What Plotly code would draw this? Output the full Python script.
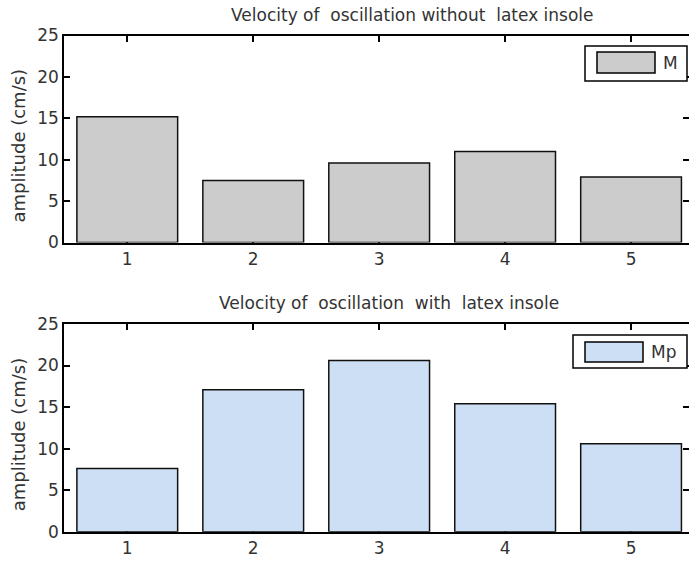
import plotly.graph_objects as go

# ---- data ----
categories = [1, 2, 3, 4, 5]
m_values = [15.2, 7.5, 9.6, 11.0, 7.9]
mp_values = [7.6, 17.1, 20.6, 15.4, 10.6]
series_names = ["M", "Mp"]
titles = ["Velocity of  oscillation without  latex insole",
          "Velocity of  oscillation  with  latex insole"]
y_title = "amplitude (cm/s)"
y_ticks = [0, 5, 10, 15, 20, 25]

W, H = 689, 562
FONT = "DejaVu Sans"
TXT = "#333333"
fill_colors = ["#cccccc", "#cddff4"]


def px(x):
    return x / W


def py(y):
    return 1 - y / H


fig = go.Figure()

# panel pixel geometry (top, bottom of plot area)
panels = [(35.5, 242.5), (324.0, 531.7)]
x_left = 64.3

data_sets = [m_values, mp_values]
for i, vals in enumerate(data_sets):
    ax = "" if i == 0 else str(i + 1)
    fig.add_trace(go.Bar(
        x=categories, y=vals, name=series_names[i], width=0.8,
        marker=dict(color=fill_colors[i], line=dict(color="#111111", width=1.5)),
        xaxis="x" + ax, yaxis="y" + ax, showlegend=False,
    ))

layout = dict(
    width=W, height=H, autosize=False,
    margin=dict(l=0, r=0, t=0, b=0),
    paper_bgcolor="white", plot_bgcolor="white",
    font=dict(family=FONT, size=17, color=TXT),
    bargap=0.2,
    annotations=[], shapes=[],
)

for i in range(2):
    top, bot = panels[i]
    xa = "xaxis" if i == 0 else "xaxis2"
    ya = "yaxis" if i == 0 else "yaxis2"
    yname = "y" if i == 0 else "y2"
    xname = "x" if i == 0 else "x2"
    layout[xa] = dict(
        domain=[px(x_left), 1.0], range=[0.5, 5.46], anchor=yname,
        tickvals=categories, ticks="inside", ticklen=6, tickwidth=1.5,
        tickcolor="black", showline=True, linecolor="black", linewidth=2,
        mirror="ticks", showgrid=False, zeroline=False,
        tickfont=dict(family=FONT, size=17, color=TXT),
        layer="below traces", automargin=False, fixedrange=True,
    )
    layout[ya] = dict(
        domain=[py(bot), py(top)], range=[0, 25], anchor=xname,
        tickvals=y_ticks, ticks="inside", ticklen=6, tickwidth=1.5,
        tickcolor="black", showline=True, linecolor="black", linewidth=2,
        showgrid=False, zeroline=False,
        tickfont=dict(family=FONT, size=17, color=TXT),
        layer="below traces", automargin=False, fixedrange=True,
    )
    # right-side tick marks only
    ra = "yaxis" + str(i + 3)
    layout[ra] = dict(
        overlaying=yname, side="right", anchor=xname, range=[0, 25],
        tickvals=y_ticks, ticks="inside", ticklen=6, tickwidth=1.5,
        tickcolor="black", showticklabels=False, showline=False,
        showgrid=False, zeroline=False, fixedrange=True,
    )
    fig.add_trace(go.Scatter(x=[], y=[], xaxis=xname, yaxis="y" + str(i + 3),
                             showlegend=False, hoverinfo="skip"))

# titles
title_pos = [(412, 15), (389, 303)]
for i, t in enumerate(titles):
    cx, cy = title_pos[i]
    layout["annotations"].append(dict(
        text=t, x=px(cx), y=py(cy), xref="paper", yref="paper",
        xanchor="center", yanchor="middle", showarrow=False,
        font=dict(family=FONT, size=17, color=TXT)))

# y-axis titles
for i, (top, bot) in enumerate(panels):
    cy = (top + bot) / 2 + 7
    layout["annotations"].append(dict(
        text=y_title, x=px(18.5), y=py(cy), xref="paper", yref="paper",
        xanchor="center", yanchor="middle", showarrow=False, textangle=-90,
        font=dict(family=FONT, size=18, color=TXT)))

# legends (box, swatch, label)
legend_geo = [
    dict(box=(585, 46, 687, 81), sw=(597, 52, 655, 73), tx=(661, 63)),
    dict(box=(573, 335, 687, 368), sw=(585, 342, 643, 362), tx=(649, 352)),
]
for i, g in enumerate(legend_geo):
    x0, y0, x1, y1 = g["box"]
    layout["shapes"].append(dict(
        type="rect", xref="paper", yref="paper", x0=px(x0), x1=px(x1),
        y0=py(y1), y1=py(y0), fillcolor="white",
        line=dict(color="black", width=1.5), layer="above"))
    x0, y0, x1, y1 = g["sw"]
    layout["shapes"].append(dict(
        type="rect", xref="paper", yref="paper", x0=px(x0), x1=px(x1),
        y0=py(y1), y1=py(y0), fillcolor=fill_colors[i],
        line=dict(color="black", width=1.5), layer="above"))
    tx, ty = g["tx"]
    layout["annotations"].append(dict(
        text=series_names[i], x=px(tx), y=py(ty), xref="paper", yref="paper",
        xanchor="left", yanchor="middle", showarrow=False,
        font=dict(family=FONT, size=17, color=TXT)))

fig.update_layout(**layout)
fig.write_html("out.html", config={"displayModeBar": False},
               post_script="document.body.style.margin='0';document.body.style.overflow='hidden';")
